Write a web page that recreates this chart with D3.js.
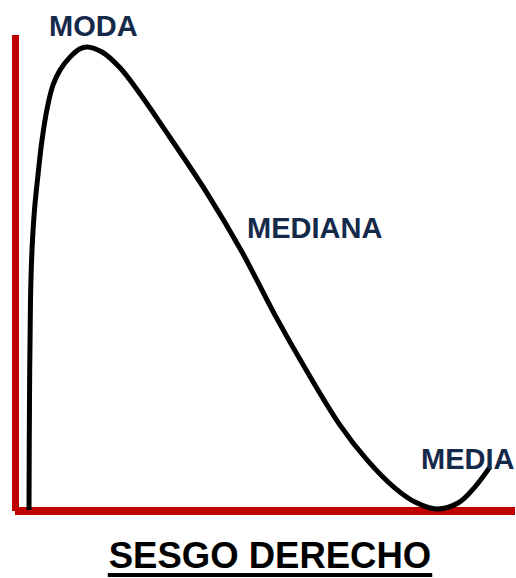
<!DOCTYPE html>
<html>
<head>
<meta charset="utf-8">
<script src="https://cdn.jsdelivr.net/npm/d3@7"></script>
<style>
	body { margin: 0; background: #fff; }
	svg { display: block; }
	.label { font-family: "Liberation Sans", Arial, sans-serif; font-weight: bold; fill: #15294a; }
	.title { font-family: "Liberation Sans", Arial, sans-serif; font-weight: bold; fill: #000; }
</style>
</head>
<body>
<div class="chart"></div>
<script>
// curve (x: 0-100, y: 0-100)
var curveX = [2.8, 2.9, 3.1, 3.4, 3.9, 4.6, 5.4, 6.5, 7.6, 9.0, 11.0, 13.0, 14.4, 17.4, 21.0, 25.0, 29.6, 38.4, 45.4, 52.0, 58.0, 65.0, 70.4, 76.0, 80.0, 84.4, 88.6, 92.0, 95.0];
var curveY = [0, 23.7, 45.3, 56.0, 64.7, 72.2, 79.7, 86.9, 91.6, 94.8, 97.6, 99.4, 99.8, 98.7, 95.3, 89.7, 82.5, 68.3, 55.6, 42.0, 30.6, 18.3, 10.8, 4.7, 1.7, 0.2, 1.5, 5.0, 9.3];

var labels = ["MODA", "MEDIANA", "MEDIA"];
var title = "SESGO DERECHO";

var W = 516, H = 578;

var svg = d3.select(".chart").append("svg")
	.attr("width", W)
	.attr("height", H);

var x = d3.scaleLinear().domain([0, 100]).range([15, 515]);
var y = d3.scaleLinear().domain([0, 100]).range([510, 46]);

// axes, drawn as two thick red bars
svg.append("line")
	.attr("x1", 15.5).attr("x2", 15.5)
	.attr("y1", 35).attr("y2", 511)
	.attr("stroke", "#c00000")
	.attr("stroke-width", 7);

svg.append("line")
	.attr("x1", x(0)).attr("x2", x(100))
	.attr("y1", 511).attr("y2", 511)
	.attr("stroke", "#c00000")
	.attr("stroke-width", 8);

var pts = curveX.map(function (d, i) { return [d, curveY[i]]; });

var line = d3.line()
	.x(function (d) { return x(d[0]); })
	.y(function (d) { return y(d[1]); })
	.curve(d3.curveCatmullRom.alpha(0.5));

svg.append("path")
	.datum(pts)
	.attr("d", line)
	.attr("fill", "none")
	.attr("stroke", "#000")
	.attr("stroke-width", 5);

// labels
var labelPos = [[49, 36], [247, 238], [421, 469]];
svg.selectAll(".label")
	.data(labels)
	.enter()
	.append("text")
	.attr("class", "label")
	.attr("x", function (d, i) { return labelPos[i][0]; })
	.attr("y", function (d, i) { return labelPos[i][1]; })
	.attr("font-size", 29)
	.text(function (d) { return d; });

var t = svg.append("text")
	.attr("class", "title")
	.attr("x", 270)
	.attr("y", 568)
	.attr("text-anchor", "middle")
	.attr("font-size", 36.5)
	.text(title);

var bb = t.node().getBBox();
svg.append("rect")
	.attr("x", bb.x - 1)
	.attr("y", 573)
	.attr("width", bb.width + 2)
	.attr("height", 4)
	.attr("fill", "#000");
</script>
</body>
</html>
